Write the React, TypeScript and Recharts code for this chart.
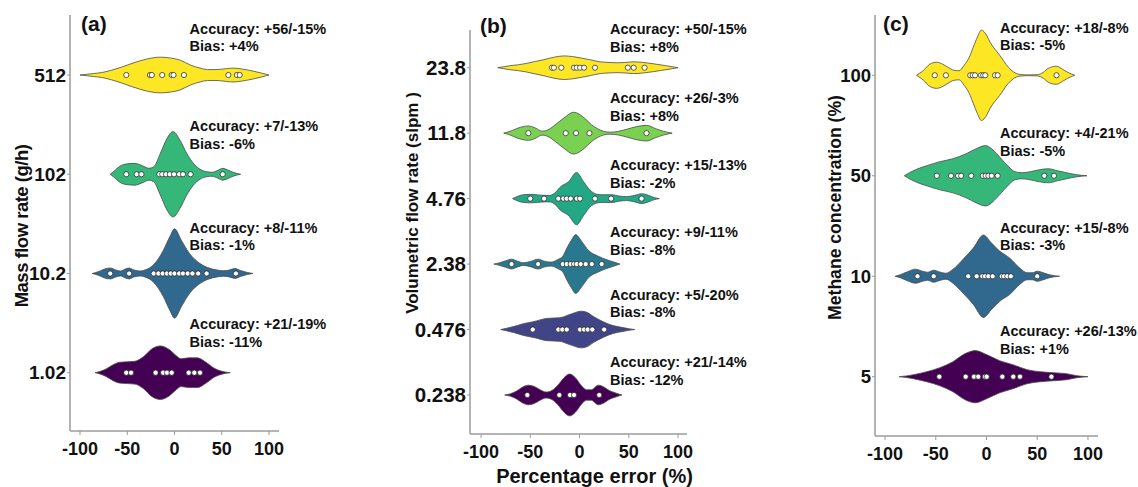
import React from 'react';
import { ComposedChart, Area, Scatter, XAxis, YAxis } from 'recharts';

type Profile = [number, number][];

const xTicks = [-100, -50, 0, 50, 100];

// ---------- Panel (a): mass flow rate ----------
const massCategories = ['1.02', '10.2', '102', '512'];
const massColors = ['#440154', '#31688E', '#35B779', '#FDE725'];
const massAccuracy = ['+21/-19%', '+8/-11%', '+7/-13%', '+56/-15%'];
const massBias = ['-11%', '-1%', '-6%', '+4%'];
const massDots: number[][] = [
  [-51, -46, -20, -12, -8, -3, 15, 21, 27],
  [-68, -48, -22, -17, -12.5, -8, -4, 0, 5, 9, 14, 19, 25, 34, 65],
  [-51, -40, -35, -16, -13, -9, -5, -0.5, 5, 9, 17, 51],
  [-51, -26, -24, -13, -3, -1, 10, 57, 66, 69],
];
const massProfiles: Profile[] = [
  [[-84, 0], [-79, 0.012], [-72, 0.04], [-65, 0.08], [-58, 0.105], [-50, 0.11], [-42, 0.115], [-33, 0.16], [-24, 0.24], [-15, 0.27], [-5, 0.23], [2, 0.17], [7, 0.14], [15, 0.15], [24, 0.15], [34, 0.1], [42, 0.045], [50, 0.015], [59, 0]],
  [[-87, 0], [-80, 0.02], [-74, 0.045], [-68, 0.055], [-62, 0.035], [-57, 0.025], [-52, 0.045], [-48, 0.055], [-43, 0.035], [-36, 0.025], [-30, 0.04], [-23, 0.08], [-17, 0.15], [-12, 0.23], [-5, 0.37], [0, 0.45], [7.5, 0.33], [16, 0.2], [27, 0.1], [35, 0.06], [45, 0.035], [52, 0.028], [58, 0.035], [64, 0.05], [70, 0.03], [77, 0.01], [83, 0]],
  [[-68, 0], [-64, 0.03], [-58, 0.08], [-50, 0.105], [-42, 0.11], [-35, 0.09], [-27, 0.06], [-22, 0.075], [-15, 0.21], [-8, 0.36], [-1.5, 0.43], [6, 0.34], [13, 0.21], [20, 0.11], [27, 0.05], [34, 0.025], [40, 0.02], [46, 0.04], [51, 0.06], [56, 0.045], [62, 0.02], [70, 0]],
  [[-100, 0], [-92, 0.008], [-86, 0.015], [-77, 0.025], [-68, 0.045], [-56, 0.08], [-44, 0.12], [-30, 0.16], [-15, 0.18], [-3, 0.17], [6, 0.15], [17, 0.1], [27, 0.07], [35, 0.055], [45, 0.055], [55, 0.065], [62, 0.07], [72, 0.06], [83, 0.04], [92, 0.02], [100, 0]],
];

// ---------- Panel (b): volumetric flow rate ----------
const volCategories = ['0.238', '0.476', '2.38', '4.76', '11.8', '23.8'];
const volColors = ['#440154', '#414487', '#2A788E', '#22A884', '#7AD151', '#FDE725'];
const volAccuracy = ['+21/-14%', '+5/-20%', '+9/-11%', '+15/-13%', '+26/-3%', '+50/-15%'];
const volBias = ['-12%', '-8%', '-8%', '-2%', '+8%', '+8%'];
const volDots: number[][] = [
  [-53, -20.5, -9.6, -5.6, 20],
  [-47.5, -21.5, -17.5, -13, 0.5, 4.6, 8.3, 13, 25],
  [-69, -42, -17, -13, -9, -5.6, -2.8, 1.2, 6.3, 12.4, 22.5],
  [-50, -36, -21.5, -16.4, -13, -9, -2.8, 0.5, 15.7, 32, 63],
  [-52, -14, -3.6, 10, 68],
  [-28, -26, -18.5, -5.6, -2.8, 0.5, 4.6, 15.7, 49, 55, 66],
];
const volProfiles: Profile[] = [
  [[-76, 0], [-70, 0.02], [-64, 0.06], [-58, 0.12], [-52, 0.15], [-46, 0.13], [-40, 0.08], [-34, 0.045], [-28, 0.07], [-22, 0.15], [-16, 0.26], [-10, 0.32], [-4, 0.26], [2, 0.14], [7, 0.08], [12, 0.08], [19, 0.15], [25, 0.12], [30, 0.07], [36, 0.035], [43, 0]],
  [[-80, 0], [-74, 0.02], [-67, 0.045], [-57, 0.09], [-47, 0.12], [-33, 0.17], [-20, 0.18], [-10, 0.23], [2, 0.28], [8, 0.26], [14, 0.2], [24, 0.12], [34, 0.06], [44, 0.03], [50, 0.012], [56, 0]],
  [[-87, 0], [-81, 0.02], [-75, 0.05], [-69, 0.075], [-63, 0.045], [-57, 0.02], [-50, 0.04], [-42, 0.075], [-36, 0.045], [-29, 0.03], [-22, 0.07], [-17, 0.12], [-13, 0.24], [-8, 0.37], [-4, 0.45], [2, 0.35], [9, 0.21], [19, 0.12], [29, 0.06], [35, 0.03], [41, 0]],
  [[-68, 0], [-62, 0.04], [-57, 0.06], [-50, 0.065], [-44, 0.06], [-36, 0.05], [-30, 0.05], [-24, 0.1], [-20, 0.17], [-11, 0.26], [-3, 0.4], [4, 0.26], [12, 0.11], [21, 0.06], [27, 0.06], [33, 0.06], [40, 0.04], [48, 0.03], [56, 0.05], [63, 0.075], [70, 0.05], [76, 0.015], [81, 0]],
  [[-77, 0], [-72, 0.02], [-67, 0.05], [-60, 0.09], [-52, 0.11], [-45, 0.08], [-38, 0.03], [-32, 0.05], [-27, 0.1], [-16, 0.23], [-6, 0.32], [5, 0.23], [12, 0.13], [18, 0.07], [24, 0.03], [31, 0.015], [40, 0.03], [48, 0.06], [58, 0.1], [68, 0.12], [77, 0.07], [85, 0.03], [94, 0]],
  [[-83, 0], [-77, 0.015], [-71, 0.03], [-62, 0.045], [-54, 0.065], [-45, 0.095], [-37, 0.12], [-26, 0.16], [-16, 0.18], [-7, 0.17], [1, 0.15], [11, 0.12], [21, 0.09], [30, 0.08], [38, 0.075], [46, 0.08], [55, 0.09], [65, 0.08], [75, 0.06], [88, 0.03], [100, 0]],
];

// ---------- Panel (c): methane concentration ----------
const methCategories = ['5', '10', '50', '100'];
const methColors = ['#440154', '#31688E', '#35B779', '#FDE725'];
const methAccuracy = ['+26/-13%', '+15/-8%', '+4/-21%', '+18/-8%'];
const methBias = ['+1%', '-3%', '-5%', '-5%'];
const methDots: number[][] = [
  [-46.5, -20.5, -12.3, -8.1, -1.5, 0.2, 15.6, 26.4, 33, 64],
  [-68, -52, -18, -9.7, -4.1, -1.5, 1.8, 6.1, 15, 17.2, 20.5, 24, 50],
  [-49, -35, -28, -25, -15, -3.7, -0.8, 1.8, 5.1, 11, 57, 66.5],
  [-51, -40, -16, -13.6, -11.3, -5.4, -3.2, -1.2, 8.4, 11, 69],
];
const methProfiles: Profile[] = [
  [[-86, 0], [-79, 0.008], [-72, 0.02], [-59, 0.05], [-46, 0.09], [-33, 0.15], [-21, 0.23], [-11, 0.26], [0, 0.22], [13, 0.16], [26, 0.12], [40, 0.07], [53, 0.05], [66, 0.04], [79, 0.03], [89, 0.01], [100, 0]],
  [[-90, 0], [-85, 0.015], [-78, 0.045], [-70, 0.07], [-63, 0.05], [-58, 0.04], [-52, 0.06], [-47, 0.045], [-40, 0.03], [-33, 0.07], [-23, 0.17], [-13, 0.28], [-3, 0.41], [5, 0.33], [13, 0.25], [23, 0.18], [33, 0.08], [40, 0.035], [45, 0.035], [50, 0.05], [56, 0.035], [62, 0.015], [72, 0]],
  [[-81, 0], [-76, 0.03], [-70, 0.06], [-59, 0.1], [-46, 0.14], [-33, 0.17], [-20, 0.22], [-10, 0.27], [-1, 0.3], [5, 0.27], [10, 0.22], [20, 0.11], [28, 0.04], [35, 0.03], [43, 0.04], [52, 0.06], [61, 0.07], [70, 0.05], [79, 0.03], [89, 0.01], [99, 0]],
  [[-69, 0], [-66, 0.02], [-62, 0.05], [-56, 0.11], [-49, 0.13], [-43, 0.11], [-38, 0.08], [-32, 0.05], [-27, 0.045], [-22, 0.1], [-17, 0.18], [-13, 0.28], [-9, 0.38], [-5, 0.45], [0, 0.4], [3.5, 0.33], [13, 0.2], [21.5, 0.08], [27, 0.03], [32, 0.01], [40, 0.004], [50, 0.006], [56, 0.03], [61, 0.07], [69, 0.09], [75, 0.06], [80, 0.03], [87, 0]],
];

// ---------- layout (not data) ----------
const FONT = '"Liberation Sans", Arial, Helvetica, sans-serif';
const AXIS_GREY = '#9b9b9b';

type PanelCfg = {
  left: number;
  width: number;
  margin: { top: number; right: number; bottom: number; left: number };
  xDomain: [number, number];
  yDomain: [number, number];
  tickFont: number;
  annX: number;
  annLift: number[];
  categories: string[];
  colors: string[];
  accuracy: string[];
  bias: string[];
  dots: number[][];
  profiles: Profile[];
};

const panels: PanelCfg[] = [
  {
    left: 0, width: 400,
    margin: { top: 15, right: 121, bottom: 26, left: 0 },
    xDomain: [-110.6, 110.6], yDomain: [-0.5875, 3.605], tickFont: 19,
    annX: 16, annLift: [43.4, 40.6, 43, 41.5],
    categories: massCategories, colors: massColors, accuracy: massAccuracy, bias: massBias,
    dots: massDots, profiles: massProfiles,
  },
  {
    left: 400, width: 405,
    margin: { top: 30, right: 118, bottom: 23, left: 0 },
    xDomain: [-111.2, 109.1], yDomain: [-0.596, 5.576], tickFont: 20.5,
    annX: 31, annLift: [27.5, 30, 27, 28.3, 30, 33.4],
    categories: volCategories, colors: volColors, accuracy: volAccuracy, bias: volBias,
    dots: volDots, profiles: volProfiles,
  },
  {
    left: 805, width: 333,
    margin: { top: 15, right: 40, bottom: 21, left: 0 },
    xDomain: [-109.9, 109.9], yDomain: [-0.59, 3.6], tickFont: 18.5,
    annX: 13.3, annLift: [40.7, 43.4, 37.4, 42.7],
    categories: methCategories, colors: methColors, accuracy: methAccuracy, bias: methBias,
    dots: methDots, profiles: methProfiles,
  },
];

const DotShape = (props: any) => {
  const { cx, cy } = props;
  if (cx == null || cy == null) return null;
  return <circle cx={cx} cy={cy} r={2.6} fill="#ffffff" stroke="#1a1a1a" strokeWidth={0.7} />;
};

const AnnotationShape = (props: any) => {
  const { cx, cy, payload } = props;
  if (cx == null || cy == null) return null;
  const y0 = cy - payload.lift;
  return (
    <g>
      <text x={cx} y={y0} fontSize={14.5} fontWeight={700} fill="#111" fontFamily={FONT}>
        {`Accuracy: ${payload.acc}`}
      </text>
      <text x={cx} y={y0 + 17.5} fontSize={14.5} fontWeight={700} fill="#111" fontFamily={FONT}>
        {`Bias: ${payload.bias}`}
      </text>
    </g>
  );
};

function ViolinPanel({ cfg }: { cfg: PanelCfg }) {
  const dotData = cfg.dots.flatMap((xs, i) => xs.map((x) => ({ x, y: i })));
  const annData = cfg.categories.map((_, i) => ({
    x: cfg.annX, y: i, acc: cfg.accuracy[i], bias: cfg.bias[i], lift: cfg.annLift[i],
  }));
  return (
    <div style={{ position: 'absolute', left: cfg.left, top: 0 }}>
      <ComposedChart width={cfg.width} height={487} margin={cfg.margin}>
        <XAxis
          type="number" dataKey="x" domain={cfg.xDomain} ticks={xTicks}
          height={30} tickSize={4} tickMargin={7}
          axisLine={{ stroke: AXIS_GREY, strokeWidth: 1.5 }}
          tickLine={{ stroke: AXIS_GREY, strokeWidth: 1 }}
          tick={{ fontSize: 18, fontWeight: 700, fill: '#111', fontFamily: FONT }}
        />
        <YAxis
          type="number" dataKey="y" domain={cfg.yDomain}
          ticks={cfg.categories.map((_, i) => i)}
          tickFormatter={(v: number) => cfg.categories[v] ?? ''}
          width={70} tickSize={3} tickMargin={1}
          axisLine={{ stroke: AXIS_GREY, strokeWidth: 1.5 }}
          tickLine={{ stroke: AXIS_GREY, strokeWidth: 1 }}
          tick={{ fontSize: cfg.tickFont, fontWeight: 700, fill: '#111', fontFamily: FONT }}
        />
        {cfg.profiles.map((prof, i) => (
          <Area
            key={`v${i}`}
            data={prof.map(([x, w]) => ({ x, band: [i - w, i + w] }))}
            dataKey="band"
            type="monotone"
            fill={cfg.colors[i]}
            fillOpacity={1}
            stroke="#4a4a4a"
            strokeWidth={0.8}
            dot={false}
            activeDot={false}
            isAnimationActive={false}
          />
        ))}
        <Scatter data={dotData} dataKey="y" shape={DotShape} isAnimationActive={false} />
        <Scatter data={annData} dataKey="y" shape={AnnotationShape} isAnimationActive={false} />
      </ComposedChart>
    </div>
  );
}

export default function App() {
  return (
    <div style={{ position: 'absolute', left: 0, top: 0, width: 1138, height: 487, background: '#fff', fontFamily: FONT, overflow: 'hidden' }}>
      {panels.map((p, i) => (
        <ViolinPanel key={i} cfg={p} />
      ))}
      <svg width={1138} height={487} style={{ position: 'absolute', left: 0, top: 0, pointerEvents: 'none' }}>
        <g fontFamily={FONT} fontWeight={700} fill="#111">
          <text x={81} y={30.5} fontSize={21}>(a)</text>
          <text x={480} y={32.5} fontSize={21}>(b)</text>
          <text x={883} y={30.5} fontSize={21}>(c)</text>
          <text x={21} y={226} fontSize={18.5} letterSpacing={-0.5} textAnchor="middle" dominantBaseline="central" transform="rotate(-90 21 226)">Mass flow rate (g/h)</text>
          <text x={412} y={203} fontSize={17} textAnchor="middle" dominantBaseline="central" transform="rotate(-90 412 203)">Volumetric flow rate (slpm )</text>
          <text x={835} y={207.5} fontSize={17.6} textAnchor="middle" dominantBaseline="central" transform="rotate(-90 835 207.5)">Methane concentration (%)</text>
          <text x={594.5} y={483} fontSize={20} textAnchor="middle">Percentage error (%)</text>
        </g>
      </svg>
    </div>
  );
}
